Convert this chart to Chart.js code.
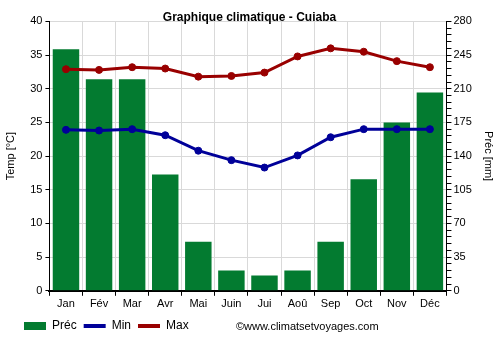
<!DOCTYPE html>
<html lang="fr">
<head>
    <meta charset="UTF-8">
    <title>Graphique climatique - Cuiaba</title>
    <script src="https://cdn.jsdelivr.net/npm/chart.js"></script>
    <style>
        body {
            margin: 0;
            background-color: white;
            font-family: Arial, 'Liberation Sans', sans-serif;
        }
        .chart-container {
            position: relative;
            width: 500px;
            height: 350px;
        }
        .copyright {
            position: absolute;
            left: 236px;
            top: 320px;
            font-size: 11px;
            color: #000;
        }
    </style>
</head>
<body>
    <div class="chart-container">
        <canvas id="climateChart"></canvas>
        <div class="copyright">©www.climatsetvoyages.com</div>
    </div>

    <script>
        const months = ['Jan', 'Fév', 'Mar', 'Avr', 'Mai', 'Juin', 'Jui', 'Aoû', 'Sep', 'Oct', 'Nov', 'Déc'];
        const precip = [251, 220, 220, 121, 51, 21, 16, 21, 51, 116, 175, 206];
        const tempMin = [23.9, 23.8, 24.0, 23.1, 20.8, 19.4, 18.3, 20.1, 22.8, 24.0, 24.0, 24.0];
        const tempMax = [32.9, 32.8, 33.2, 33.0, 31.8, 31.9, 32.4, 34.8, 36.0, 35.5, 34.1, 33.2];

        const green = '#037b30';
        const blue = '#000099';
        const red = '#990000';
        const gridColor = '#d9d9d9';
        const font = { family: "Arial, 'Liberation Sans', sans-serif", size: 11 };

        Chart.defaults.color = '#000';
        Chart.defaults.font.family = font.family;

        // nudge the legend right so it starts where the original does
        const legendShift = {
            id: 'legendShift',
            afterLayout(chart) {
                chart.legend.left += 15;
            }
        };

        const ctx = document.getElementById('climateChart').getContext('2d');

        new Chart(ctx, {
            type: 'bar',
            data: {
                labels: months,
                datasets: [
                    {
                        label: 'Préc',
                        data: precip,
                        backgroundColor: green,
                        yAxisID: 'yPrec',
                        barPercentage: 0.8,
                        categoryPercentage: 1,
                        order: 2
                    },
                    {
                        label: 'Min',
                        type: 'line',
                        data: tempMin,
                        borderColor: blue,
                        backgroundColor: blue,
                        borderWidth: 3,
                        pointRadius: 3.5,
                        pointBorderWidth: 1,
                        pointBackgroundColor: blue,
                        pointBorderColor: blue,
                        yAxisID: 'yTemp',
                        tension: 0,
                        order: 1
                    },
                    {
                        label: 'Max',
                        type: 'line',
                        data: tempMax,
                        borderColor: red,
                        backgroundColor: red,
                        borderWidth: 3,
                        pointRadius: 3.5,
                        pointBorderWidth: 1,
                        pointBackgroundColor: red,
                        pointBorderColor: red,
                        yAxisID: 'yTemp',
                        tension: 0,
                        order: 1
                    }
                ]
            },
            options: {
                responsive: true,
                maintainAspectRatio: false,
                animation: false,
                layout: {
                    padding: { left: 2, right: 3, top: 0, bottom: 8 }
                },
                scales: {
                    x: {
                        grid: {
                            color: gridColor,
                            tickColor: '#000',
                            tickLength: 5,
                            offset: true
                        },
                        border: { color: '#000', width: 2 },
                        ticks: { font: font, padding: 2, maxRotation: 0 }
                    },
                    yTemp: {
                        position: 'left',
                        min: 0,
                        max: 40,
                        ticks: { stepSize: 5, font: font, padding: 3 },
                        grid: { color: gridColor, tickColor: '#000', tickLength: 4 },
                        border: { color: '#000' },
                        title: {
                            display: true,
                            text: 'Temp [°C]',
                            font: font,
                            padding: { top: 2, bottom: 10 }
                        }
                    },
                    yPrec: {
                        position: 'right',
                        min: 0,
                        max: 280,
                        ticks: {
                            stepSize: 7,
                            autoSkip: false,
                            font: font,
                            padding: 2,
                            callback: (v) => (v % 35 === 0 ? v : '')
                        },
                        grid: { drawOnChartArea: false, tickColor: '#000', tickLength: 5 },
                        border: { color: '#000' },
                        title: {
                            display: true,
                            text: 'Préc [mm]',
                            font: font,
                            padding: { top: 2, bottom: 8 }
                        }
                    }
                },
                plugins: {
                    title: {
                        display: true,
                        text: 'Graphique climatique - Cuiaba',
                        font: { family: font.family, size: 12, weight: 'bold' },
                        padding: { top: 10, bottom: -3 }
                    },
                    legend: {
                        position: 'bottom',
                        align: 'start',
                        labels: {
                            font: { family: font.family, size: 12 },
                            boxWidth: 22,
                            boxHeight: 8,
                            usePointStyle: true,
                            pointStyleWidth: 22,
                            padding: 7,
                            generateLabels: () => [
                                { text: 'Préc', fillStyle: green, strokeStyle: green, lineWidth: 0, pointStyle: 'rect', datasetIndex: 0, hidden: false },
                                { text: 'Min', fillStyle: blue, strokeStyle: blue, lineWidth: 4, pointStyle: 'line', datasetIndex: 1, hidden: false },
                                { text: 'Max', fillStyle: red, strokeStyle: red, lineWidth: 4, pointStyle: 'line', datasetIndex: 2, hidden: false }
                            ]
                        }
                    },
                    tooltip: { enabled: false }
                }
            },
            plugins: [legendShift]
        });
    </script>
</body>
</html>
